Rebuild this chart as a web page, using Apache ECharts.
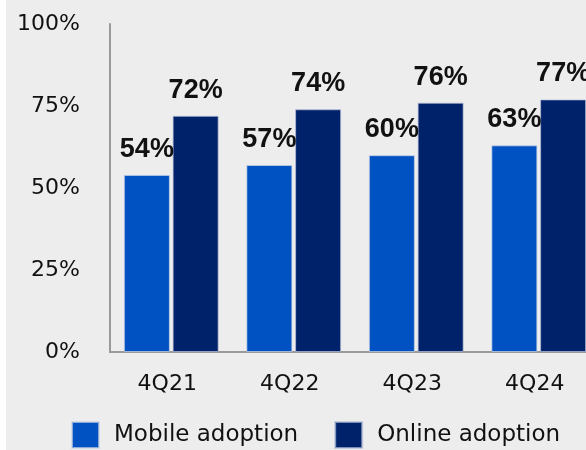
<!DOCTYPE html>
<html>
<head>
<meta charset="utf-8">
<script src="https://cdn.jsdelivr.net/npm/echarts@6/dist/echarts.min.js"></script>
<style>
  html, body { margin: 0; padding: 0; background: #ffffff; overflow: hidden; width: 586px; height: 450px; }
  #chart { position: absolute; left: 6px; top: 0; width: 600px; height: 450px; background: #ededed; }
</style>
</head>
<body>
<div id="chart"></div>
<script>
// Quarterly digital adoption rates (%)
const quarters = ['4Q21', '4Q22', '4Q23', '4Q24'];
const mobileAdoption = [54, 57, 60, 63];
const onlineAdoption = [72, 74, 76, 77];
const yTicks = [0, 25, 50, 75, 100];

const chart = echarts.init(document.getElementById('chart'), null, { renderer: 'canvas' });

const labelStyle = {
  show: true,
  position: 'top',
  distance: 12,
  formatter: '{c}%',
  fontFamily: 'Liberation Sans',
  fontWeight: 'bold',
  fontSize: 27,
  color: '#111111'
};

chart.setOption({
  backgroundColor: '#ededed',
  animation: false,
  textStyle: { fontFamily: 'DejaVu Sans' },
  grid: { left: 104, top: 24, width: 490, height: 328, containLabel: false },
  legend: {
    left: 65,
    top: 421,
    padding: 0,
    itemWidth: 27,
    itemHeight: 26,
    itemGap: 36,
    icon: 'rect',
    textStyle: {
      fontFamily: 'DejaVu Sans',
      fontSize: 23,
      color: '#111111',
      padding: [0, 0, 0, 10]
    },
    data: ['Mobile adoption', 'Online adoption']
  },
  xAxis: {
    type: 'category',
    data: quarters,
    axisLine: { show: true, lineStyle: { color: '#999999', width: 2 } },
    axisTick: { show: false },
    axisLabel: {
      fontFamily: 'DejaVu Sans',
      fontSize: 22,
      color: '#111111',
      margin: 21,
      padding: [0, 8, 0, 0]
    }
  },
  yAxis: {
    type: 'value',
    min: yTicks[0],
    max: yTicks[yTicks.length - 1],
    interval: yTicks[1] - yTicks[0],
    axisLine: { show: true, lineStyle: { color: '#999999', width: 2 } },
    axisTick: { show: false },
    splitLine: { show: false },
    axisLabel: {
      fontFamily: 'DejaVu Sans',
      fontSize: 22,
      color: '#111111',
      margin: 30,
      formatter: '{value}%'
    }
  },
  series: [
    {
      name: 'Mobile adoption',
      type: 'bar',
      data: mobileAdoption,
      barWidth: 46,
      barGap: '6%',
      itemStyle: { color: '#0052c2', borderColor: 'rgba(200,210,230,0.7)', borderWidth: 1 },
      label: labelStyle
    },
    {
      name: 'Online adoption',
      type: 'bar',
      data: onlineAdoption,
      barWidth: 46,
      barGap: '6%',
      itemStyle: { color: '#00226a', borderColor: 'rgba(180,190,215,0.7)', borderWidth: 1 },
      label: labelStyle
    }
  ]
});
</script>
</body>
</html>
